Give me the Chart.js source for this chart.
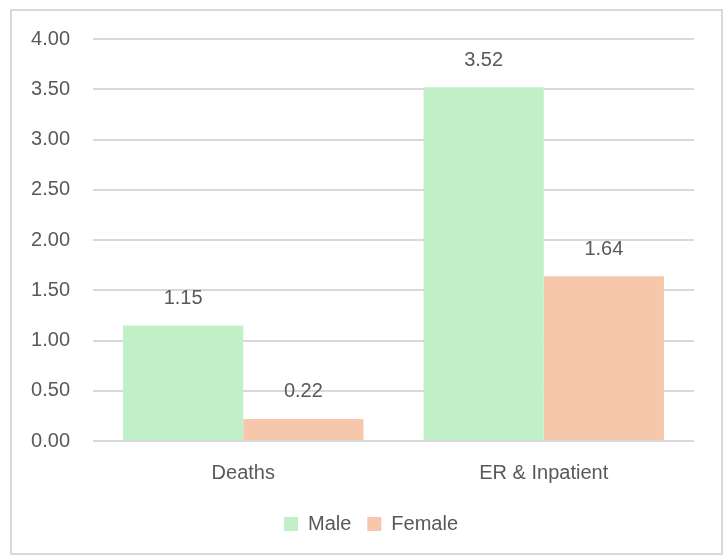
<!DOCTYPE html>
<html>
<head>
<meta charset="utf-8">
<script src="https://cdn.jsdelivr.net/npm/chart.js@4"></script>
<style>
  html, body { margin: 0; padding: 0; background: #fff; }
  #wrap { width: 724px; height: 556px; }
</style>
</head>
<body>
<div id="wrap"><canvas id="chart" width="724" height="556"></canvas></div>
<script>
const categories = ['Deaths', 'ER & Inpatient'];
const maleValues = [1.15, 3.52];
const femaleValues = [0.22, 1.64];
const seriesNames = ['Male', 'Female'];

const textColor = '#595959';
const fontFamily = '"Liberation Sans", Arial, sans-serif';

// outer frame like the spreadsheet chart box
const frame = {
  id: 'frame',
  beforeDraw(chart) {
    const ctx = chart.ctx;
    ctx.save();
    ctx.fillStyle = '#fff';
    ctx.fillRect(0, 0, chart.width, chart.height);
    ctx.strokeStyle = '#d9d9d9';
    ctx.lineWidth = 2;
    ctx.strokeRect(11, 10, 711, 544);
    ctx.restore();
  },
  // nudge legend so it sits a bit right of centre, like the original
  afterLayout(chart) {
    if (chart.legend) {
      chart.legend.left += 24;
      chart.legend.right += 24;
    }
  }
};

// value labels above each bar
const valueLabels = {
  id: 'valueLabels',
  afterDatasetsDraw(chart) {
    const ctx = chart.ctx;
    ctx.save();
    ctx.fillStyle = textColor;
    ctx.font = '20px ' + fontFamily;
    ctx.textAlign = 'center';
    ctx.textBaseline = 'middle';
    chart.data.datasets.forEach((ds, i) => {
      chart.getDatasetMeta(i).data.forEach((bar, j) => {
        ctx.fillText(ds.data[j].toFixed(2), bar.x, bar.y - 27);
      });
    });
    ctx.restore();
  }
};

Chart.defaults.font.family = fontFamily;
Chart.defaults.font.size = 20;
Chart.defaults.color = textColor;

new Chart(document.getElementById('chart'), {
  type: 'bar',
  data: {
    labels: categories,
    datasets: [
      { label: seriesNames[0], data: maleValues, backgroundColor: '#C1F0C8' },
      { label: seriesNames[1], data: femaleValues, backgroundColor: '#F7C7AC' }
    ]
  },
  options: {
    responsive: false,
    animation: false,
    layout: { padding: { top: 39, right: 30, bottom: 12, left: 0 } },
    datasets: { bar: { categoryPercentage: 0.8, barPercentage: 1.0 } },
    plugins: {
      legend: {
        position: 'bottom',
        labels: { boxWidth: 14, boxHeight: 14, padding: 16, font: { size: 20 } }
      },
      tooltip: { enabled: false }
    },
    scales: {
      y: {
        min: 0, max: 4,
        ticks: { stepSize: 0.5, padding: 23, callback: v => v.toFixed(2) },
        grid: { color: '#d9d9d9', lineWidth: 2, drawTicks: false },
        border: { display: false },
        afterFit(scale) { scale.width = 93; }
      },
      x: {
        ticks: { padding: 20 },
        grid: { display: false, drawTicks: false },
        border: { display: false },
        afterFit(scale) { scale.height = 57; }
      }
    }
  },
  plugins: [frame, valueLabels]
});
</script>
</body>
</html>
